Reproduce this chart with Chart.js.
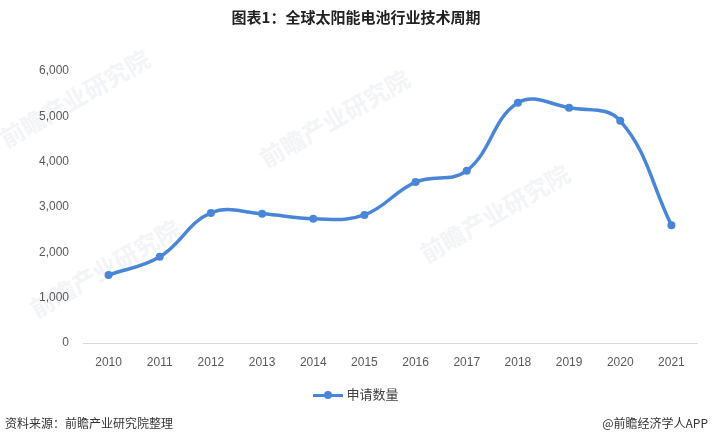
<!DOCTYPE html>
<html>
<head>
<meta charset="utf-8">
<script src="https://cdn.jsdelivr.net/npm/chart.js@4/dist/chart.umd.min.js"></script>
<style>
  body { margin: 0; background: #fff; }
  #wrap { position: relative; width: 712px; height: 446px; overflow: hidden; font-family: "Noto Sans CJK SC", "Noto Sans", sans-serif; }
  #chart { position: absolute; left: 0; top: 0; }
  .title { position: absolute; top: 6px; left: 0; width: 712px; text-align: center; font-size: 15px; font-weight: bold; color: #222; }
  .legend { position: absolute; top: 384px; left: 0; width: 712px; text-align: center; font-size: 13px; color: #404040; }
  .legend .sw { display: inline-block; position: relative; width: 30px; height: 3px; background: #4a86d8; vertical-align: middle; margin-right: 3px; }
  .legend .sw::after { content: ""; position: absolute; left: 11px; top: -3px; width: 8px; height: 8px; border-radius: 50%; background: #4a86d8; }
  .src { position: absolute; top: 414px; left: 5px; font-size: 12px; color: #333; }
  .app { position: absolute; top: 414px; right: 4px; font-size: 12px; color: #333; }
  .wm { position: absolute; color: #f3f4f7; font-size: 24px; font-weight: bold; transform: rotate(-30deg); white-space: nowrap; }
</style>
</head>
<body>
<div id="wrap">
  <div class="wm" style="left:-10px;top:80px;">前瞻产业研究院</div>
  <div class="wm" style="left:20px;top:250px;">前瞻产业研究院</div>
  <div class="wm" style="left:250px;top:100px;">前瞻产业研究院</div>
  <div class="wm" style="left:410px;top:195px;">前瞻产业研究院</div>
  <canvas id="chart" width="712" height="446"></canvas>
  <div class="title">图表1：全球太阳能电池行业技术周期</div>
  <div class="legend"><span class="sw"></span>申请数量</div>
  <div class="src">资料来源：前瞻产业研究院整理</div>
  <div class="app">@前瞻经济学人APP</div>
</div>
<script>
// 年份与申请数量
const years = ['2010', '2011', '2012', '2013', '2014', '2015', '2016', '2017', '2018', '2019', '2020', '2021'];
const applications = [1500, 1900, 2870, 2850, 2740, 2825, 3550, 3800, 5300, 5190, 4900, 2600];
const yTicks = [0, 1000, 2000, 3000, 4000, 5000, 6000];

const lineColor = '#4a86d8';

new Chart(document.getElementById('chart').getContext('2d'), {
    type: 'line',
    data: {
        labels: years,
        datasets: [{
            label: '申请数量',
            data: applications,
            borderColor: lineColor,
            backgroundColor: lineColor,
            borderWidth: 3.5,
            pointRadius: 4,
            pointBackgroundColor: lineColor,
            pointBorderWidth: 0,
            tension: 0.4,
            fill: false
        }]
    },
    options: {
        responsive: false,
        animation: false,
        layout: { padding: { top: 71, right: 15, bottom: 73, left: 0 } },
        plugins: {
            legend: { display: false },
            title: { display: false },
            tooltip: { enabled: false }
        },
        scales: {
            x: {
                offset: true,
                grid: { display: false, drawTicks: false },
                border: { display: true, color: '#d9d9d9', width: 1 },
                ticks: { color: '#595959', font: { size: 12, family: 'Liberation Sans, Arial, sans-serif' }, padding: 12 },
                afterFit: (scale) => { scale.height = 30; }
            },
            y: {
                min: 0,
                max: 6000,
                afterBuildTicks: (scale) => { scale.ticks = yTicks.map((v) => ({ value: v })); },
                grid: { display: false, drawTicks: false },
                border: { display: false },
                ticks: {
                    color: '#595959',
                    font: { size: 12, family: 'Liberation Sans, Arial, sans-serif' },
                    padding: 14,
                    callback: (v) => v.toLocaleString('en-US')
                },
                afterFit: (scale) => { scale.width = 83; }
            }
        }
    }
});
</script>
</body>
</html>
